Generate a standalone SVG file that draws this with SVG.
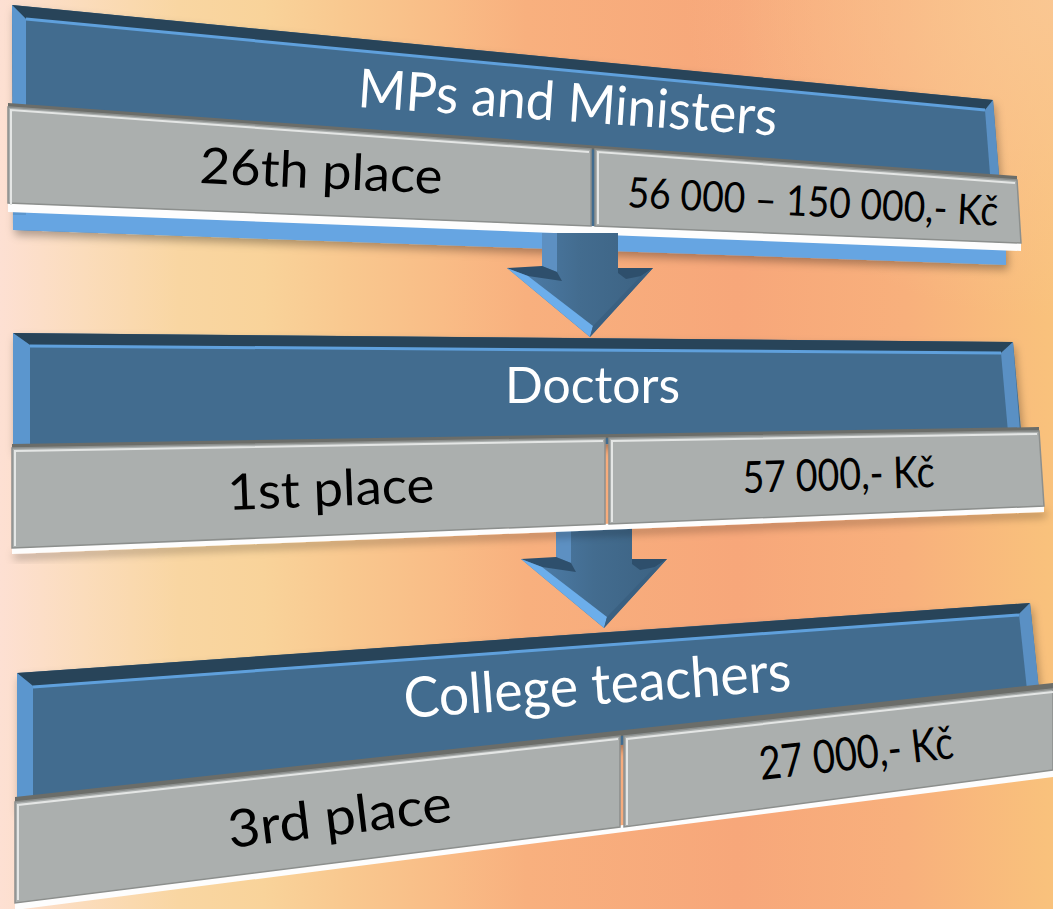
<svg xmlns="http://www.w3.org/2000/svg" xmlns:xlink="http://www.w3.org/1999/xlink" width="1053" height="909" viewBox="0 0 1053 909">
  <defs>
    <linearGradient id="bg" x1="0" y1="0" x2="1" y2="0">
      <stop offset="0" stop-color="#FDE0D3"/>
      <stop offset="0.08" stop-color="#FBDCBB"/>
      <stop offset="0.17" stop-color="#F9D6A2"/>
      <stop offset="0.25" stop-color="#F9D39A"/>
      <stop offset="0.33" stop-color="#F9C88F"/>
      <stop offset="0.42" stop-color="#F9BC86"/>
      <stop offset="0.5" stop-color="#F8B07E"/>
      <stop offset="0.7" stop-color="#F7A77A"/>
      <stop offset="0.86" stop-color="#F8B07C"/>
      <stop offset="1" stop-color="#F9C27C"/>
    </linearGradient>
    <radialGradient id="tr" cx="1" cy="0" r="0.35">
      <stop offset="0" stop-color="#FAC794" stop-opacity="0.9"/>
      <stop offset="1" stop-color="#FAC794" stop-opacity="0"/>
    </radialGradient>
    <linearGradient id="shaft" x1="0" y1="0" x2="1" y2="0">
      <stop offset="0" stop-color="#4F80AE"/>
      <stop offset="0.5" stop-color="#436C8F"/>
      <stop offset="1" stop-color="#3C6282"/>
    </linearGradient>
    <filter id="sh" x="-5%" y="-10%" width="110%" height="130%">
      <feDropShadow dx="2" dy="5" stdDeviation="4" flood-color="#000" flood-opacity="0.3"/>
    </filter>
    <style>
      .blue{fill:#436C8F}
      .bevTop{fill:#284459}
      .bevLight{fill:#5B96CE}
      .bevLine{stroke:#5FA0DC;stroke-width:3;fill:none}
      .band{fill:#66A5E2}
      .grey{fill:#ABAFAE;stroke:#8C8F8D;stroke-width:1.5}
      .greyTop{fill:#6B6D69}
      .white{fill:#FDFDFD}
      .hl{stroke:#E4E6E5;stroke-width:2;fill:none}
      .title{font-family:Lato,"Open Sans",sans-serif;fill:#FFFFFF}
      .cell{font-family:Lato,"Open Sans",sans-serif;fill:#000000}
    </style>
    <g id="arrowShape">
      <polygon points="542,233 618,233 618,268 653,268 590,337 507,268 542,268" fill="url(#shaft)"/>
      <polygon points="542,233 557,233 557,272 542,266" fill="#5D90C2"/>
      <polygon points="507,268 542,266 557,272 562,281 528,276" fill="#2E4F6C"/>
      <polygon points="618,268 653,268 641,276 626,279 618,273" fill="#2E4F6C"/>
      <polygon points="507,268 528,276 593,326 590,337" fill="#6CAEEB"/>
      <polygon points="653,268 641,276 593,326 590,337" fill="#3A6081"/>
    </g>
  </defs>

  <rect x="0" y="0" width="1053" height="909" fill="url(#bg)"/>
  <rect x="0" y="0" width="1053" height="909" fill="url(#tr)"/>

  <!-- Node 1 -->
  <g id="node-mps">
    <g filter="url(#sh)">
      <polygon class="blue" points="12,5 993,100 1006,262 13,230"/>
      <polygon class="band" points="13,211 1006,248 1006,265 13,230"/>
    </g>
    <polygon class="bevTop" points="12,5 993,100 985,110 26,19"/>
    <line class="bevLine" x1="26" y1="19" x2="985" y2="110"/>
    <polygon class="bevLight" points="12,5 26,19 26,215 13,215"/>
    <polygon fill="#5A90C4" points="993,100 985,110 992,200 1001,200"/>
    <polygon class="greyTop" points="8,103 1017,176 1017,180 8,107"/>
    <polygon class="white" points="8,203 1021,243 1021,251 8,212"/>
    <polygon class="grey" points="8,107 591,149 591,226 8,203"/>
    <polygon class="grey" points="595,149 1017,180 1021,243 595,226"/>
    <polyline class="hl" points="11,205 11,110 589,152"/>
    <polyline class="hl" points="598,224 598,152 1015,183"/>
    <text class="title" font-size="54" textLength="420" lengthAdjust="spacingAndGlyphs" transform="translate(357,107) rotate(3.9)">MPs and Ministers</text>
    <text class="cell" font-size="50" textLength="243" lengthAdjust="spacingAndGlyphs" transform="translate(199,183) rotate(2.5)">26th place</text>
    <text class="cell" font-size="42" textLength="371" lengthAdjust="spacingAndGlyphs" transform="translate(627,207) rotate(2.9)">56 000 – 150 000,- Kč</text>
  </g>

  <!-- Connectors -->
  <g id="connectors">
    <use xlink:href="#arrowShape" href="#arrowShape"/>
    <use xlink:href="#arrowShape" href="#arrowShape" transform="translate(14,291)"/>
  </g>

  <!-- Node 2 -->
  <g id="node-doctors">
    <g filter="url(#sh)">
      <polygon class="blue" points="13,333 1013,342 1022,440 13,450"/>
    </g>
    <polygon class="bevTop" points="13,333 1013,342 1001,353 30,345"/>
    <line class="bevLine" x1="30" y1="346" x2="1001" y2="353"/>
    <polygon class="bevLight" points="13,333 30,345 30,448 13,448"/>
    <polygon fill="#5A90C4" points="1013,342 1001,353 1008,432 1020,432"/>
    <polygon class="greyTop" points="12,444 1039,427 1039,431 12,448"/>
    <polygon class="white" points="12,548 1044,506 1044,512 12,554" filter="url(#sh)"/>
    <polygon class="grey" points="12,448 605,438 605,524 12,548"/>
    <polygon class="grey" points="609,438 1039,431 1044,506 609,524"/>
    <polyline class="hl" points="15,546 15,451 603,441"/>
    <polyline class="hl" points="612,522 612,441 1037,434"/>
    <text class="title" font-size="50" textLength="175" lengthAdjust="spacingAndGlyphs" transform="translate(505,403)">Doctors</text>
    <text class="cell" font-size="50" textLength="207" lengthAdjust="spacingAndGlyphs" transform="translate(228,510) rotate(-2.2)">1st place</text>
    <text class="cell" font-size="44" textLength="192" lengthAdjust="spacingAndGlyphs" transform="translate(743,493) rotate(-1.8)">57 000,- Kč</text>
  </g>

  <!-- Node 3 -->
  <g id="node-college">
    <g filter="url(#sh)">
      <polygon class="blue" points="17,673 1030,603 1040,700 17,810"/>
    </g>
    <polygon class="bevTop" points="17,673 1030,603 1019,614 33,686"/>
    <line class="bevLine" x1="33" y1="687" x2="1019" y2="615"/>
    <polygon class="bevLight" points="17,673 33,686 33,805 17,805"/>
    <polygon fill="#5A90C4" points="1030,603 1019,614 1027,690 1039,690"/>
    <polygon class="greyTop" points="15,797 1053,683 1053,689 15,802"/>
    <polygon class="white" points="15,903 1053,770 1053,777 15,910"/>
    <polygon class="grey" points="15,802 620,736 620,827 15,903"/>
    <polygon class="grey" points="624,736 1053,689 1053,770 624,827"/>
    <polyline class="hl" points="18,900 18,805 618,739"/>
    <polyline class="hl" points="627,825 627,739 1053,692"/>
    <text class="title" font-size="56" textLength="388" lengthAdjust="spacingAndGlyphs" transform="translate(405,718) rotate(-4.1)">College teachers</text>
    <text class="cell" font-size="52" textLength="225" lengthAdjust="spacingAndGlyphs" transform="translate(230,848) rotate(-6.9)">3rd place</text>
    <text class="cell" font-size="46" textLength="195" lengthAdjust="spacingAndGlyphs" transform="translate(761,780) rotate(-6.5)">27 000,- Kč</text>
  </g>
</svg>
